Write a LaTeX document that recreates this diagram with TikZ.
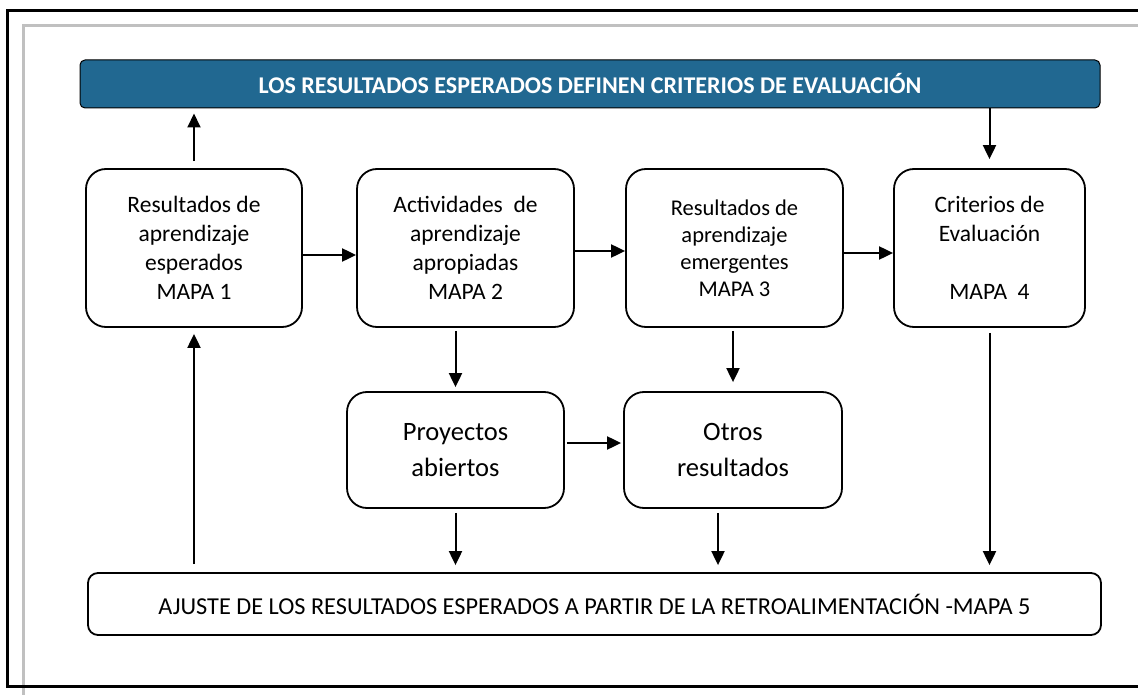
\documentclass[tikz,border=0pt]{standalone}
\usepackage{fontspec}
\setmainfont{Carlito}
\usetikzlibrary{arrows.meta}
\definecolor{barblue}{RGB}{33,104,145}
\definecolor{framegray}{RGB}{192,192,192}
\tikzset{
  caja/.style={draw, line width=1.8pt, rounded corners=20pt, align=center, inner sep=0pt},
  flecha/.style={line width=2pt, -{Triangle[length=14pt,width=13pt]}},
}
\begin{document}
\begin{tikzpicture}[x=1pt, y=-1pt]
	\useasboundingbox (0,0) rectangle (1138,695);
	% Marcos
	\draw[framegray, line width=3pt] (1138,26) -- (23,26) -- (23,695);
	\draw[line width=3pt] (1138,11) -- (7,11) -- (7,686) -- (1138,686);
	
	% Barra superior
	\node[draw, line width=1pt, fill=barblue, rounded corners=5pt, minimum width=1020pt, minimum height=48pt, text=white, font=\fontsize{24}{28}\selectfont\bfseries] (hdr) at (590,84) {LOS RESULTADOS ESPERADOS DEFINEN CRITERIOS DE EVALUACIÓN};
	
	% Cajas principales
	\node[caja, minimum width=216pt, minimum height=158pt, font=\fontsize{23.5}{29}\selectfont] (b1) at (194,248) {Resultados de\\aprendizaje\\esperados\\MAPA 1};
	\node[caja, minimum width=217pt, minimum height=158pt, font=\fontsize{23.5}{29}\selectfont] (b2) at (465.5,248) {Actividades\ \ de\\aprendizaje\\apropiadas\\MAPA 2};
	\node[caja, minimum width=217pt, minimum height=158pt, font=\fontsize{22.5}{27}\selectfont] (b3) at (734.5,248) {Resultados de\\aprendizaje\\emergentes\\MAPA 3};
	\node[caja, minimum width=191pt, minimum height=158pt, font=\fontsize{23.5}{29}\selectfont] (b4) at (989.5,248) {Criterios de\\Evaluación\\[29pt]MAPA\ \ 4};
	\node[caja, minimum width=217pt, minimum height=116pt, font=\fontsize{26.5}{36}\selectfont] (p1) at (455.5,450) {Proyectos\\abiertos};
	\node[caja, minimum width=218pt, minimum height=116pt, font=\fontsize{26.5}{36}\selectfont] (p2) at (733,450) {Otros\\resultados};
	\node[caja, rounded corners=10pt, minimum width=1013pt, minimum height=62pt, font=\fontsize{24.3}{28}\selectfont] (aj) at (594.5,604) {AJUSTE DE LOS RESULTADOS ESPERADOS A PARTIR DE LA RETROALIMENTACIÓN -MAPA 5};
	
	% Flechas
	\draw[flecha, shorten <=7pt, shorten >=5pt] (b1.north) -- (b1.north |- hdr.south);
	\draw[flecha, shorten >=9pt] (hdr.south -| b4) -- (b4.north);
	\draw[flecha] ([yshift=-7pt]b1.east) -- ([yshift=-7pt]b2.west);
	\draw[flecha] ([yshift=-3pt]b2.east) -- ([yshift=-3pt]b3.west);
	\draw[flecha] ([yshift=-5pt]b3.east) -- ([yshift=-5pt]b4.west);
	\draw[flecha, shorten <=3pt, shorten >=4pt] (b2.south -| p1) -- (p1.north);
	\draw[flecha, shorten <=3pt, shorten >=9pt] (b3.south -| p2) -- (p2.north);
	\draw[flecha, shorten <=2pt, shorten >=2pt] ([yshift=7pt]p1.east) -- ([yshift=7pt]p2.west);
	\draw[flecha, shorten <=4pt, shorten >=7pt] (p1.south) -- (p1.south |- aj.north);
	\draw[flecha, shorten <=4pt, shorten >=7pt] ([xshift=-15pt]p2.south) -- ([xshift=-15pt]p2.south |- aj.north);
	\draw[flecha, shorten <=5pt, shorten >=7pt] (b4.south) -- (b4.south |- aj.north);
	\draw[flecha, shorten <=8pt, shorten >=6pt] (b1.south |- aj.north) -- (b1.south);
\end{tikzpicture}
\end{document}
